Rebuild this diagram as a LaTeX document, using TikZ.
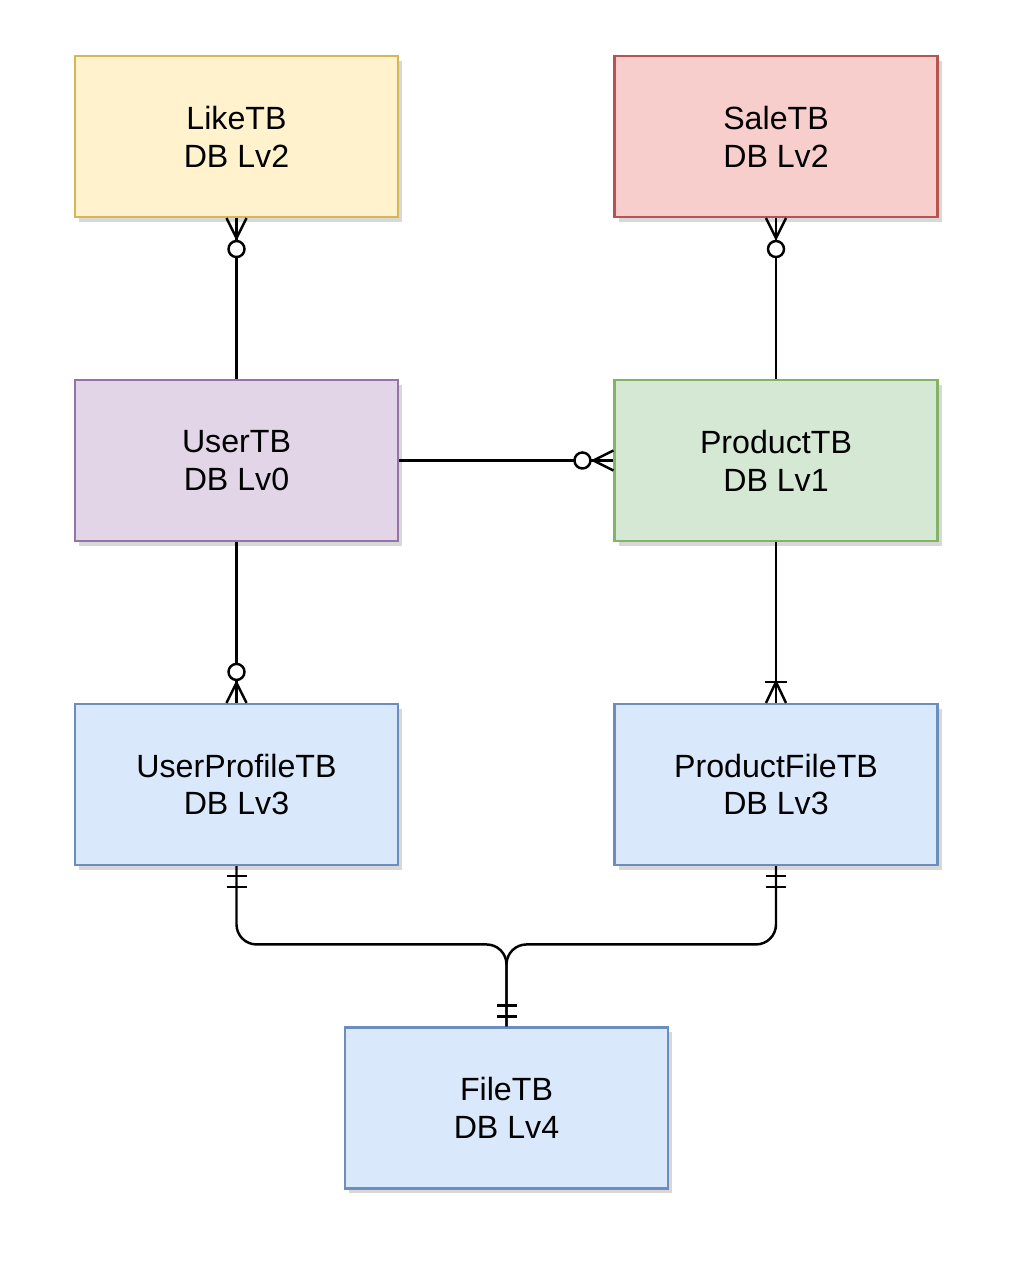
\documentclass[tikz,border=0pt]{standalone}
\usepackage{fontspec}
\setmainfont{Liberation Sans}
\usetikzlibrary{calc,shadows}

\definecolor{likefill}{HTML}{FFF2CC}\definecolor{likeline}{HTML}{D6B656}
\definecolor{salefill}{HTML}{F8CECC}\definecolor{saleline}{HTML}{B85450}
\definecolor{userfill}{HTML}{E1D5E7}\definecolor{userline}{HTML}{9673A6}
\definecolor{prodfill}{HTML}{D5E8D4}\definecolor{prodline}{HTML}{82B366}
\definecolor{filefill}{HTML}{DAE8FC}\definecolor{fileline}{HTML}{6C8EBF}

\tikzset{
	tbl/.style={draw, line width=1.2pt, minimum width=6.46cm, minimum height=3.22cm,
		align=center, font=\fontsize{18.3}{21.6}\selectfont,
		drop shadow={shadow xshift=0.08cm, shadow yshift=-0.1cm, opacity=0.22, fill=black!70}},
	rel/.style={line width=1.4pt},
	zmany/.pic={
		\draw[rel] (-0.2,0) -- (0,-0.4) -- (0.2,0);
		\draw[rel, fill=white] (0,-0.62) circle (0.16);
	},
	omany/.pic={
		\draw[rel] (-0.2,0) -- (0,-0.42) -- (0.2,0);
		\draw[rel] (-0.22,-0.42) -- (0.22,-0.42);
	},
	mone/.pic={
		\draw[rel] (-0.2,-0.2) -- (0.2,-0.2);
		\draw[rel] (-0.2,-0.42) -- (0.2,-0.42);
	}
}

\begin{document}
\begin{tikzpicture}
	%%%%% START %%%%%
	\useasboundingbox (0,0) rectangle (20.22,25.46);
	
	\node[tbl, fill=likefill, draw=likeline] (like) at (4.73, 22.73) {LikeTB\\DB Lv2};
	\node[tbl, fill=salefill, draw=saleline] (sale) at (15.52, 22.73) {SaleTB\\DB Lv2};
	
	\node[tbl, fill=userfill, draw=userline] (user) at (4.73, 16.25) {UserTB\\DB Lv0};
	\node[tbl, fill=prodfill, draw=prodline] (prod) at (15.52, 16.25) {ProductTB\\DB Lv1};
	
	\node[tbl, fill=filefill, draw=fileline] (uprof) at (4.73, 9.77) {UserProfileTB\\DB Lv3};
	\node[tbl, fill=filefill, draw=fileline] (pfile) at (15.52, 9.77) {ProductFileTB\\DB Lv3};
	
	\node[tbl, fill=filefill, draw=fileline] (file) at (10.13, 3.3) {FileTB\\DB Lv4};
	
	% relations
	\draw[rel] (like.south) -- (user.north);
	\draw[rel] (sale.south) -- (prod.north);
	\draw[rel] (user.east) -- (prod.west);
	\draw[rel] (user.south) -- (uprof.north);
	\draw[rel] (prod.south) -- (pfile.north);
	
	\coordinate (join) at ($(file.north)+(0,1.64)$);
	\draw[rel, rounded corners=0.4cm] (uprof.south) |- (join) -- (file.north);
	\draw[rel, rounded corners=0.4cm] (pfile.south) |- (join) -- (file.north);
	
	% ends
	\pic at (like.south) {zmany};
	\pic at (sale.south) {zmany};
	\pic[rotate=-90] at (prod.west) {zmany};
	\pic[rotate=180] at (uprof.north) {zmany};
	\pic[rotate=180] at (pfile.north) {omany};
	\pic at (uprof.south) {mone};
	\pic at (pfile.south) {mone};
	\pic[rotate=180] at (file.north) {mone};
	%%%%% END %%%%%
\end{tikzpicture}
\end{document}
